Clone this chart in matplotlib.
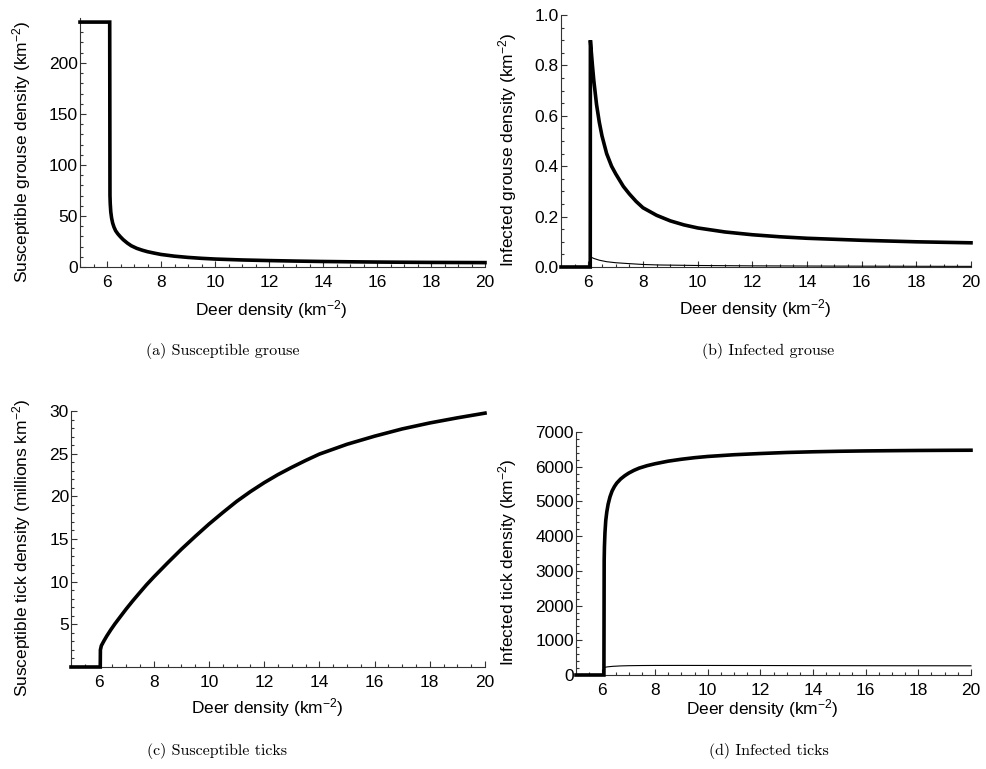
import numpy as np
import matplotlib
matplotlib.use("Agg")
import matplotlib.pyplot as plt
from matplotlib.ticker import MultipleLocator, FormatStrFormatter

plt.rcParams['font.family'] = ['Liberation Sans', 'DejaVu Sans']
plt.rcParams['mathtext.fontset'] = 'custom'
plt.rcParams['mathtext.rm'] = 'Liberation Sans'
plt.rcParams['mathtext.default'] = 'regular'

# (a) susceptible grouse
deer_a = [5.0, 6.10, 6.11, 6.12, 6.14, 6.17, 6.21, 6.26, 6.32, 6.4, 6.5, 6.6, 6.75,
          6.9, 7.1, 7.3, 7.5, 7.75, 8.0, 8.5, 9.0, 9.5, 10.0, 11.0, 12.0, 13.0,
          14.0, 15.0, 16.0, 17.0, 18.0, 19.0, 20.0]
sus_grouse = [240, 240, 70, 62, 54, 48, 43, 39, 35.5, 32.5, 29.5, 26.8, 23.5,
              20.8, 18.3, 16.5, 15.0, 13.6, 12.3, 10.6, 9.4, 8.5, 7.8, 6.9, 6.3, 5.8,
              5.4, 5.1, 4.85, 4.65, 4.5, 4.4, 4.3]

# (b) infected grouse
deer_b = [5.0, 6.07, 6.075, 6.1, 6.15, 6.2, 6.3, 6.4, 6.5, 6.67, 6.85, 7.0, 7.28,
          7.5, 7.75, 8.0, 8.5, 9.0, 9.5, 10.0, 11.0, 12.0, 13.0, 14.0, 15.0,
          16.0, 17.0, 18.0, 19.0, 20.0]
inf_grouse = [0, 0, 0.90, 0.865, 0.80, 0.74, 0.645, 0.575, 0.52, 0.45, 0.40, 0.37,
              0.32, 0.29, 0.26, 0.235, 0.205, 0.183, 0.167, 0.155, 0.139,
              0.128, 0.12, 0.114, 0.11, 0.106, 0.103, 0.1, 0.098, 0.096]
deer_b2 = [5.0, 6.07, 6.08, 6.2, 6.4, 6.67, 7.0, 7.4, 8.0, 8.6, 10.0, 12.0, 15.0, 20.0]
inf_grouse2 = [0, 0, 0.040, 0.034, 0.027, 0.021, 0.017, 0.014, 0.010, 0.008,
               0.006, 0.0045, 0.0035, 0.0025]

# (c) susceptible ticks (millions)
deer_c = [5.0, 6.06, 6.065, 6.1, 6.2, 6.3, 6.45, 6.59, 6.8, 7.0, 7.25, 7.5, 7.74,
          8.0, 8.5, 9.0, 9.5, 10.0, 10.5, 11.0, 11.5, 12.0, 12.5, 13.0, 13.5, 14.0,
          15.0, 16.0, 17.0, 18.0, 19.0, 20.0]
sus_ticks = [0, 0, 2.0, 2.5, 3.1, 3.65, 4.4, 5.05, 5.95, 6.8, 7.8, 8.75, 9.65,
             10.55, 12.2, 13.8, 15.3, 16.75, 18.1, 19.4, 20.55, 21.6, 22.55, 23.4,
             24.2, 24.95, 26.1, 27.05, 27.9, 28.6, 29.2, 29.75]

# (d) infected ticks
deer_d = [5.0, 6.06, 6.07, 6.08, 6.1, 6.13, 6.17, 6.22, 6.29, 6.37, 6.46, 6.55, 6.7,
          6.85, 7.0, 7.2, 7.4, 7.7, 8.0, 8.5, 9.0, 9.5, 10.0, 11.0, 12.0, 13.0, 14.0,
          15.0, 16.0, 17.0, 18.0, 19.0, 20.0]
inf_ticks = [0, 0, 3300, 3700, 4100, 4450, 4700, 4920, 5130, 5300, 5430, 5530, 5650,
             5740, 5815, 5895, 5960, 6030, 6085, 6160, 6215, 6260, 6295, 6345, 6380,
             6410, 6430, 6445, 6455, 6462, 6468, 6472, 6475]
deer_d2 = [5.0, 6.07, 6.08, 6.2, 6.4, 6.7, 7.0, 7.5, 8.0, 9.0, 10.0, 12.0, 14.0, 17.0, 20.0]
inf_ticks2 = [0, 0, 220, 235, 250, 262, 268, 273, 275, 276, 275, 273, 270, 267, 265]

W, H = 986, 769
fig = plt.figure(figsize=(W / 100, H / 100), dpi=100)


def add_panel(left, right, top, bottom):
    return fig.add_axes([left / W, (H - bottom) / H, (right - left) / W, (bottom - top) / H])


def style(ax, ymax, ymajor, yminor, yfmt, ylabel, xlab_y, ylab_x):
    ax.set_xlim(5, 20)
    ax.set_ylim(0, ymax)
    for s in ['top', 'right']:
        ax.spines[s].set_visible(False)
    for s in ['left', 'bottom']:
        ax.spines[s].set_color('#333333')
        ax.spines[s].set_linewidth(0.8)
    ax.xaxis.set_minor_locator(MultipleLocator(0.5))
    ax.yaxis.set_major_locator(MultipleLocator(ymajor))
    ax.yaxis.set_minor_locator(MultipleLocator(yminor))
    ax.yaxis.set_major_formatter(FormatStrFormatter(yfmt))
    ax.set_xticks([6, 8, 10, 12, 14, 16, 18, 20])
    ax.tick_params(which='both', direction='in', color='#333333', width=0.8, labelsize=12.5)
    ax.tick_params(which='major', length=4)
    ax.tick_params(which='minor', length=2.2)
    ax.tick_params(axis='x', which='major', pad=5.5)
    ax.tick_params(axis='y', which='major', pad=1.5)
    ax.set_xlabel('Deer density (km$^{-2}$)', fontsize=12.5)
    ax.set_ylabel(ylabel, fontsize=12.5)
    bb = ax.get_position()
    h_px = bb.height * H
    w_px = bb.width * W
    bottom_px = H - bb.y0 * H
    left_px = bb.x0 * W
    ax.xaxis.set_label_coords(0.5 - 11 / w_px, -(xlab_y - bottom_px) / h_px)
    ax.xaxis.label.set_va('center')
    ax.yaxis.set_label_coords((ylab_x - left_px) / w_px, 0.5 - 9 / h_px)
    ax.yaxis.label.set_va('center')


thick = dict(color='black', lw=2.6, solid_joinstyle='miter', clip_on=False, zorder=3)
thin = dict(color='black', lw=0.8, clip_on=False, zorder=2)

ax1 = add_panel(80, 485, 18, 267)
ax1.plot(deer_a, sus_grouse, **thick)
style(ax1, 244, 50, 10, '%d', 'Susceptible grouse density (km$^{-2}$)', 310, 22)
ax1.set_yticks([0, 50, 100, 150, 200])

ax2 = add_panel(561, 971, 15, 267)
ax2.plot(deer_b2, inf_grouse2, **thin)
ax2.plot(deer_b, inf_grouse, **thick)
style(ax2, 1.0, 0.2, 0.05, '%.1f', 'Infected grouse density (km$^{-2}$)', 309, 508)

ax3 = add_panel(71, 485, 411, 667)
ax3.plot(deer_c, sus_ticks, **thick)
style(ax3, 30, 5, 1, '%d', 'Susceptible tick density (millions km$^{-2}$)', 708, 22)
ax3.set_yticks([5, 10, 15, 20, 25, 30])

ax4 = add_panel(576, 971, 432, 675)
ax4.plot(deer_d2, inf_ticks2, **thin)
ax4.plot(deer_d, inf_ticks, **thick)
style(ax4, 7000, 1000, 200, '%d', 'Infected tick density (km$^{-2}$)', 709, 508)

captions = [('(a) Susceptible grouse', 223, 351), ('(b) Infected grouse', 768, 351),
            ('(c) Susceptible ticks', 217, 751), ('(d) Infected ticks', 769, 751)]
for txt, cx, cy in captions:
    fig.text(cx / W, 1 - cy / H, txt, ha='center', va='center', fontsize=11.5,
             family='cmr10')

fig.savefig('out.png', dpi=100)
